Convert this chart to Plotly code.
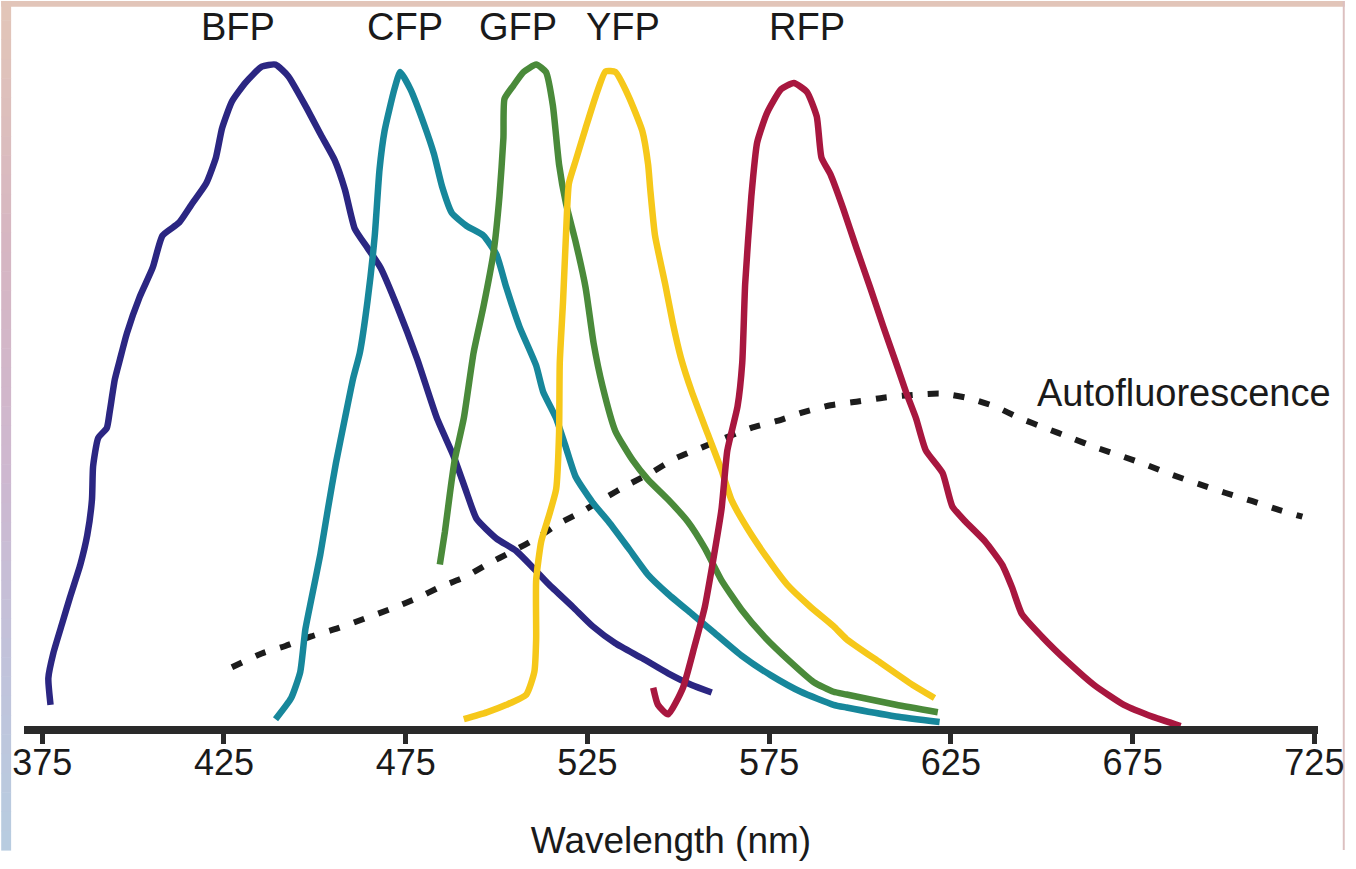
import plotly.graph_objects as go

# ---------------- data (wavelength nm, relative emission %) ----------------
bfp_x = [377.3, 376.7, 378.1, 380.5, 382.7, 385.5, 387.4, 388.7, 389.0, 390.4, 392.8, 393.6, 395.0, 396.4,
         398.3, 401.8, 405.4, 408.1, 412.7, 416.3, 420.1, 422.8, 424.5, 427.2, 431.0, 435.4, 439.2, 442.7,
         447.4, 451.7, 455.5, 458.3, 461.0, 464.5, 468.1, 472.7, 478.2, 483.6, 488.3, 491.8, 494.5, 500.0,
         505.4, 510.1, 514.4, 521.0, 526.4, 532.7, 540.1, 547.2, 553.7, 559.2]
bfp_y = [3.1, 7.0, 10.7, 15.0, 18.9, 23.6, 27.9, 33.1, 37.9, 42.1, 43.6, 46.0, 50.7, 53.6,
         57.4, 62.7, 67.0, 71.7, 73.6, 76.4, 79.3, 83.1, 87.4, 91.3, 94.1, 96.4, 96.7, 95.0,
         90.7, 86.4, 82.7, 78.4, 72.7, 69.9, 67.0, 61.3, 53.6, 45.0, 39.3, 34.1, 30.3, 27.4,
         25.6, 23.1, 20.7, 17.4, 14.6, 12.1, 9.9, 7.7, 6.0, 4.9]

cfp_x = [439.2, 443.5, 446.0, 447.4, 449.0, 451.5, 453.6, 455.8, 458.3, 460.5, 462.4, 464.5, 466.5, 467.8,
         469.2, 471.9, 473.5, 476.3, 480.1, 482.8, 485.0, 487.7, 491.8, 496.4, 500.0, 502.7, 506.3, 510.9,
         512.8, 516.4, 519.1, 521.8, 526.4, 530.8, 536.3, 541.7, 547.2, 553.7, 560.0, 567.4, 575.5, 583.7,
         592.7, 596.3, 609.9, 621.9]
cfp_y = [1.0, 4.1, 7.9, 14.1, 18.4, 25.0, 31.7, 38.4, 45.0, 50.7, 54.6, 62.1, 71.7, 81.3,
         87.0, 93.1, 95.6, 93.1, 87.9, 83.6, 78.9, 75.0, 73.1, 71.7, 68.9, 64.1, 58.4, 52.7,
         48.9, 45.0, 40.7, 36.4, 32.7, 29.9, 26.0, 22.1, 19.3, 16.4, 13.6, 10.3, 7.4, 5.0,
         3.1, 2.7, 1.4, 0.6]

gfp_x = [484.4, 485.8, 487.2, 488.5, 491.0, 493.7, 496.4, 499.2, 500.8, 501.9, 502.2, 504.6, 507.4, 510.9,
         513.6, 515.5, 517.2, 519.1, 521.8, 524.5, 526.7, 529.2, 532.7, 537.4, 541.7, 547.2, 552.6, 557.3,
         561.9, 567.4, 573.6, 581.0, 587.3, 592.7, 596.3, 609.9, 621.4]
gfp_y = [23.6, 28.4, 34.1, 38.9, 45.0, 54.6, 61.3, 69.3, 77.4, 86.0, 91.7, 93.6, 95.6, 96.7,
         95.6, 90.7, 82.1, 76.4, 70.7, 64.1, 56.0, 49.6, 43.1, 38.9, 36.0, 33.1, 29.9, 26.0,
         21.3, 17.0, 13.1, 9.3, 6.4, 5.0, 4.6, 3.1, 2.0]

yfp_x = [491.0, 497.3, 502.7, 508.2, 510.4, 510.9, 510.9, 512.3, 514.4, 516.4, 517.2, 517.4, 518.3, 519.1,
         519.9, 521.8, 524.5, 527.3, 530.0, 532.7, 536.3, 540.1, 541.7, 542.3, 543.6, 546.4, 548.5, 550.7,
         553.7, 558.1, 561.9, 564.6, 569.0, 574.4, 579.9, 586.4, 592.7, 596.3, 605.5, 614.5, 620.5]
yfp_y = [1.0, 2.0, 3.1, 4.6, 7.9, 12.7, 21.3, 27.0, 30.7, 34.6, 42.7, 53.1, 62.1, 71.7,
         79.3, 82.7, 87.4, 92.1, 95.7, 95.6, 92.1, 87.0, 82.1, 78.4, 71.7, 64.6, 58.9, 53.9,
         48.9, 42.7, 37.4, 33.1, 28.9, 24.6, 20.7, 17.4, 14.6, 12.7, 9.3, 6.0, 4.1]

rfp_x = [543.1, 544.4, 547.2, 551.3, 554.5, 557.3, 559.4, 561.9, 563.5, 566.3, 567.6, 568.4, 570.1, 571.7,
         574.4, 578.3, 581.8, 585.4, 588.1, 589.4, 591.9, 595.4, 599.0, 602.8, 606.4, 609.9, 612.6, 615.4,
         618.1, 622.7, 625.4, 629.0, 634.4, 639.1, 641.8, 644.5, 650.0, 657.3, 664.4, 672.6, 680.8, 688.2]
rfp_y = [5.6, 3.1, 1.7, 5.6, 11.7, 17.4, 23.6, 31.7, 40.3, 46.7, 53.1, 64.6, 77.4, 85.3,
         89.6, 93.1, 94.0, 92.7, 89.1, 83.1, 80.6, 75.6, 69.9, 64.1, 58.4, 53.1, 48.9, 45.0,
         40.3, 37.0, 32.1, 29.9, 27.0, 23.6, 20.3, 16.4, 13.1, 9.3, 6.0, 3.1, 1.3, 0.0]

auto_x = [427.2, 435.4, 441.9, 449.0, 456.4, 463.7, 470.8, 478.2, 484.4, 491.0, 497.3, 504.6, 510.9, 517.2,
          523.7, 530.0, 536.3, 542.8, 549.1, 556.4, 562.7, 570.1, 577.2, 584.5, 591.9, 599.0, 606.4, 614.5,
          622.2, 630.1, 637.2, 644.0, 650.8, 658.2, 665.0, 672.3, 679.2, 686.0, 693.1, 700.4, 707.8, 714.6,
          721.7]
auto_y = [8.6, 10.6, 11.7, 13.1, 14.3, 15.7, 17.1, 18.7, 20.3, 21.7, 23.6, 25.6, 27.4, 29.6,
          31.4, 33.4, 35.3, 37.1, 39.1, 40.7, 42.1, 43.6, 44.6, 45.9, 46.9, 47.4, 48.0, 48.4,
          48.6, 47.9, 46.7, 45.0, 43.6, 42.1, 40.7, 39.4, 38.1, 36.7, 35.4, 34.1, 32.9, 31.7,
          30.6]

series_names = ["BFP", "CFP", "GFP", "YFP", "RFP"]
series_x = [bfp_x, cfp_x, gfp_x, yfp_x, rfp_x]
series_y = [bfp_y, cfp_y, gfp_y, yfp_y, rfp_y]
series_colors = ["#2b2682", "#17879b", "#4a8a3a", "#f6c81a", "#a8173f"]
label_x = [428.8, 474.9, 506.0, 534.9, 585.4]   # label centre positions (nm)

tick_vals = [375, 425, 475, 525, 575, 625, 675, 725]
tick_text = [str(v) for v in tick_vals]

FONT = "Liberation Sans, Arial, sans-serif"

W, H = 1356, 869
ML, MR, MT, MB = 23, 27, 42, 127
PW, PH = W - ML - MR, H - MT - MB


def px2paper_x(px):
    return (px - ML) / PW


def px2paper_y(py):
    return (H - MB - py) / PH


fig = go.Figure()

fig.add_trace(go.Scatter(
    x=auto_x, y=auto_y, mode="lines", name="Autofluorescence",
    line=dict(color="#1c1c1c", width=6, dash="11px,15px", shape="spline", smoothing=0.6),
))
for name, xs, ys, col in zip(series_names, series_x, series_y, series_colors):
    fig.add_trace(go.Scatter(
        x=xs, y=ys, mode="lines", name=name,
        line=dict(color=col, width=6.5, shape="spline", smoothing=0.5),
    ))

annotations = []
for name, lx in zip(series_names, label_x):
    annotations.append(dict(x=lx, y=px2paper_y(27), xref="x", yref="paper", text=name, showarrow=False,
                            font=dict(family=FONT, size=38, color="#1a1a1a"),
                            xanchor="center", yanchor="middle"))
annotations.append(dict(x=689, y=48.7, xref="x", yref="y", text="Autofluorescence", showarrow=False,
                        font=dict(family=FONT, size=38, color="#1a1a1a"),
                        xanchor="center", yanchor="middle"))

# decorative gradient frame (paper coordinates)
shapes = []
shapes.append(dict(type="rect", xref="paper", yref="paper",
                   x0=px2paper_x(0), x1=px2paper_x(W), y0=px2paper_y(6), y1=px2paper_y(0),
                   fillcolor="#e2c5b9", line=dict(width=0), layer="below"))
shapes.append(dict(type="rect", xref="paper", yref="paper",
                   x0=px2paper_x(W - 2), x1=px2paper_x(W), y0=px2paper_y(H), y1=px2paper_y(0),
                   fillcolor="#dcc0c0", line=dict(width=0), layer="below"))
grad_stops = [(0, (226, 198, 184)), (250, (214, 182, 194)), (480, (206, 184, 208)),
              (700, (192, 196, 220)), (869, (184, 204, 224))]
nseg = 44
for i in range(nseg):
    y0p = H * i / nseg
    y1p = H * (i + 1) / nseg
    ym = (y0p + y1p) / 2
    for (a, ca), (b, cb) in zip(grad_stops[:-1], grad_stops[1:]):
        if a <= ym <= b:
            t = (ym - a) / (b - a)
            c = tuple(int(round(ca[k] + (cb[k] - ca[k]) * t)) for k in range(3))
            break
    shapes.append(dict(type="rect", xref="paper", yref="paper",
                       x0=px2paper_x(0), x1=px2paper_x(10), y0=px2paper_y(y1p + 0.5), y1=px2paper_y(y0p),
                       fillcolor="rgb(%d,%d,%d)" % c, line=dict(width=0), layer="below"))

fig.update_layout(
    width=W, height=H,
    margin=dict(l=ML, r=MR, t=MT, b=MB, pad=0),
    paper_bgcolor="white", plot_bgcolor="white",
    showlegend=False,
    hovermode=False,
    annotations=annotations,
    shapes=shapes,
    xaxis=dict(range=[370, 726], showgrid=False, zeroline=False,
               showline=True, linecolor="#2a2a2a", linewidth=8,
               ticks="outside", ticklen=10, tickwidth=5, tickcolor="#2a2a2a",
               tickvals=tick_vals, ticktext=tick_text, ticklabelstandoff=-12,
               tickfont=dict(family=FONT, size=36, color="#1a1a1a"),
               title=dict(text="Wavelength (nm)", font=dict(family=FONT, size=37, color="#1a1a1a"),
                          standoff=48)),
    yaxis=dict(range=[0, 100], visible=False, showgrid=False, zeroline=False),
)

fig.write_html("out.html", config={"displayModeBar": False},
               post_script="document.body.style.margin='0';document.body.style.overflow='hidden';")
